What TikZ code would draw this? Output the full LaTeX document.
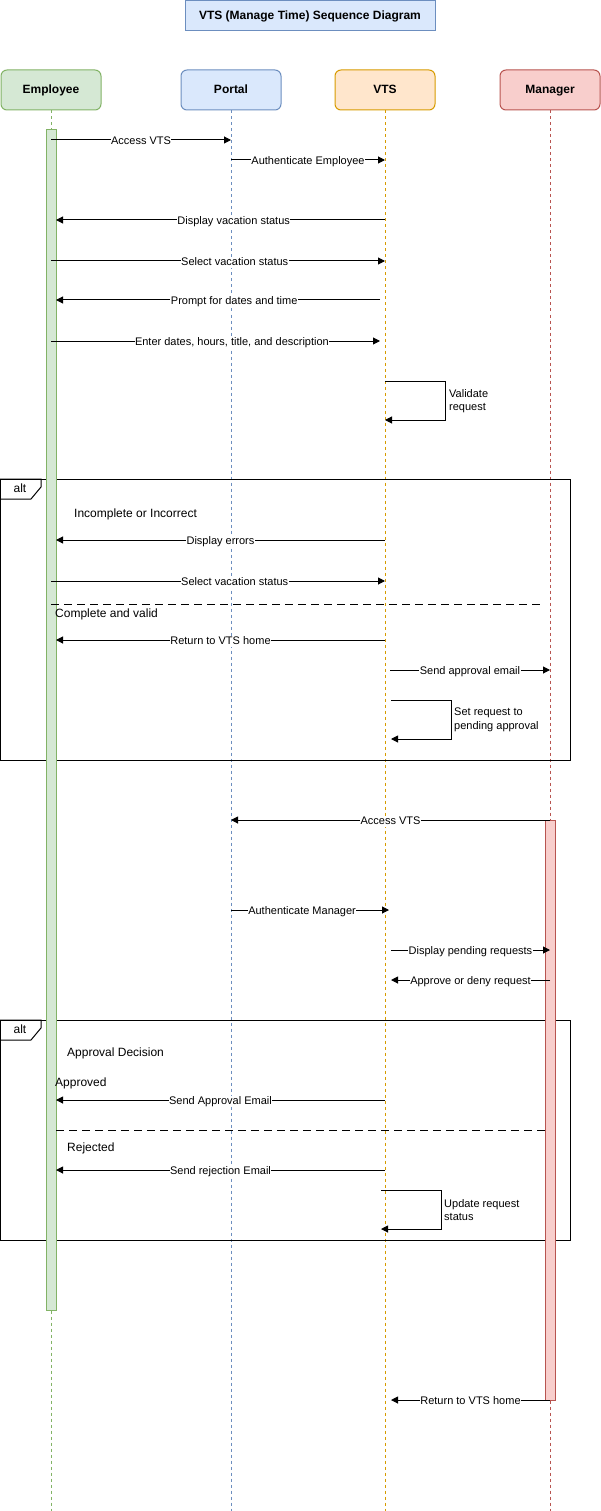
\documentclass[tikz,border=0pt]{standalone}
\usepackage{fontspec}
\setmainfont{Liberation Sans}
\usepackage{xcolor}
\usepackage{tikz}
\usetikzlibrary{arrows.meta}

\definecolor{empfill}{HTML}{D5E8D4}
\definecolor{empline}{HTML}{82B366}
\definecolor{portfill}{HTML}{DAE8FC}
\definecolor{portline}{HTML}{6C8EBF}
\definecolor{vtsfill}{HTML}{FFE6CC}
\definecolor{vtsline}{HTML}{D79B00}
\definecolor{mgrfill}{HTML}{F8CECC}
\definecolor{mgrline}{HTML}{B85450}

\tikzset{
  lifehead/.style={draw, line width=1pt, rounded corners=6pt, minimum width=100pt, minimum height=40pt, text height=9pt, text depth=2.5pt, font=\fontsize{12}{14}\selectfont\bfseries},
  lifeline/.style={line width=1pt, dash pattern=on 3pt off 3pt},
  actbar/.style={draw, line width=1pt, minimum width=10pt, inner sep=0pt, outer sep=0pt, anchor=north},
  msg/.style={line width=1pt, -{Triangle[length=7pt,width=7pt]}},
  lbl/.style={fill=white, inner sep=0.5pt, text height=8pt, text depth=2pt, yshift=-1.2pt, font=\fontsize{11}{13}\selectfont},
  altframe/.style={draw, line width=1pt, minimum width=570pt, inner sep=0pt, outer sep=0pt, anchor=north west},
  altsep/.style={line width=1pt, dash pattern=on 8pt off 5pt},
  altguard/.style={anchor=west, inner sep=0pt, text height=9pt, text depth=2.5pt, font=\fontsize{12}{14}\selectfont},
  selfnote/.style={anchor=west, align=left, inner sep=0pt, font=\fontsize{11}{13.5}\selectfont}
}

\begin{document}
\begin{tikzpicture}[x=1pt, y=-1pt]
    \useasboundingbox (0,0) rectangle (601,1511);
    \node[draw=portline, fill=portfill, line width=1pt, minimum width=250pt, minimum height=30pt, text height=9pt, text depth=2.5pt, font=\fontsize{12}{14}\selectfont\bfseries] (title) at (310,16) {VTS (Manage Time) Sequence Diagram};

    \foreach \n/\x/\t/\f/\d in {emp/51/Employee/empfill/empline, portal/231/Portal/portfill/portline, vts/385/VTS/vtsfill/vtsline, mgr/550/Manager/mgrfill/mgrline} {
      \node[lifehead, fill=\f, draw=\d] (\n) at (\x, 90) {\t};
      \draw[lifeline, draw=\d] (\n.south) -- (\n |- 0,1511);
    }

    \node[altframe, minimum height=281pt] (alt1) at (0,479) {};
    \draw[line width=1pt] (alt1.north west) -- ++(41,0) -- ++(0,8) -- ++(-10,12) -- ++(-31,0);
    \node[altguard, anchor=center] (alt1tag) at (20,489) {alt};
    \node[altframe, minimum height=220pt] (alt2) at (0,1020) {};
    \draw[line width=1pt] (alt2.north west) -- ++(41,0) -- ++(0,8) -- ++(-10,12) -- ++(-31,0);
    \node[altguard, anchor=center] (alt2tag) at (20,1030) {alt};

    \node[actbar, draw=empline, fill=empfill, minimum height=1180pt] (empbar) at (51,130) {};
    \node[actbar, draw=mgrline, fill=mgrfill, minimum height=580pt] (mgrbar) at (550,820) {};

    \draw[msg] (emp |- 0,140) to node[lbl] {Access VTS} (portal |- 0,140);
    \draw[msg] (portal |- 0,160) to node[lbl] {Authenticate Employee} (vts |- 0,160);
    \draw[msg] (vts |- 0,220) to node[lbl, pos=0.46] {Display vacation status} (empbar.east |- 0,220);
    \draw[msg] (emp |- 0,261) to node[lbl, pos=0.55] {Select vacation status} (vts |- 0,261);
    \draw[msg] ([xshift=-5pt]vts |- 0,300) to node[lbl, pos=0.45] {Prompt for dates and time} (empbar.east |- 0,300);
    \draw[msg] (emp |- 0,341) to node[lbl, pos=0.55] {Enter dates, hours, title, and description} ([xshift=-5pt]vts |- 0,341);
    \draw[msg] (vts |- 0,381) -- ++(60,0) |- (vts |- 0,420);
    \node[selfnote] (validate) at (449,401) {Validate\\request};

    \node[altguard] (incomplete) at (74,514) {Incomplete or Incorrect};
    \draw[msg] (vts |- 0,540) to node[lbl] {Display errors} (empbar.east |- 0,540);
    \draw[msg] (emp |- 0,581) to node[lbl, pos=0.55] {Select vacation status} (vts |- 0,581);
    \draw[altsep] (emp |- 0,604) -- ([xshift=-10pt]mgr |- 0,604);
    \node[altguard] (complete) at (55,614) {Complete and valid};
    \draw[msg] (vts |- 0,640) to node[lbl] {Return to VTS home} (empbar.east |- 0,640);
    \draw[msg] ([xshift=5pt]vts |- 0,670) to node[lbl] {Send approval email} (mgr |- 0,670);
    \draw[msg] ([xshift=6pt]vts |- 0,700) -- ++(60,0) |- ([xshift=6pt]vts |- 0,739);
    \node[selfnote] (pending) at (454,720) {Set request to\\pending approval};

    \draw[msg] (mgr |- 0,820) to node[lbl] {Access VTS} (portal |- 0,820);
    \draw[msg] (portal |- 0,910) to node[lbl, pos=0.45] {Authenticate Manager} ([xshift=4pt]vts |- 0,910);
    \draw[msg] ([xshift=6pt]vts |- 0,950) to node[lbl] {Display pending requests} (mgr |- 0,950);
    \draw[msg] (mgr |- 0,980) to node[lbl] {Approve or deny request} ([xshift=6pt]vts |- 0,980);

    \node[altguard] (decision) at (67,1053) {Approval Decision};
    \node[altguard] (approved) at (55,1083) {Approved};
    \draw[msg] (vts |- 0,1100) to node[lbl] {Send Approval Email} (empbar.east |- 0,1100);
    \draw[altsep] (empbar.east |- 0,1130) -- (mgrbar.west |- 0,1130);
    \node[altguard] (rejected) at (67,1148) {Rejected};
    \draw[msg] (vts |- 0,1170) to node[lbl] {Send rejection Email} (empbar.east |- 0,1170);
    \draw[msg] ([xshift=-4pt]vts |- 0,1190) -- ++(60,0) |- ([xshift=-4pt]vts |- 0,1229);
    \node[selfnote] (update) at (444,1210) {Update request\\status};

    \draw[msg] (mgr |- 0,1400) to node[lbl] {Return to VTS home} ([xshift=6pt]vts |- 0,1400);
  \end{tikzpicture}
\end{document}
